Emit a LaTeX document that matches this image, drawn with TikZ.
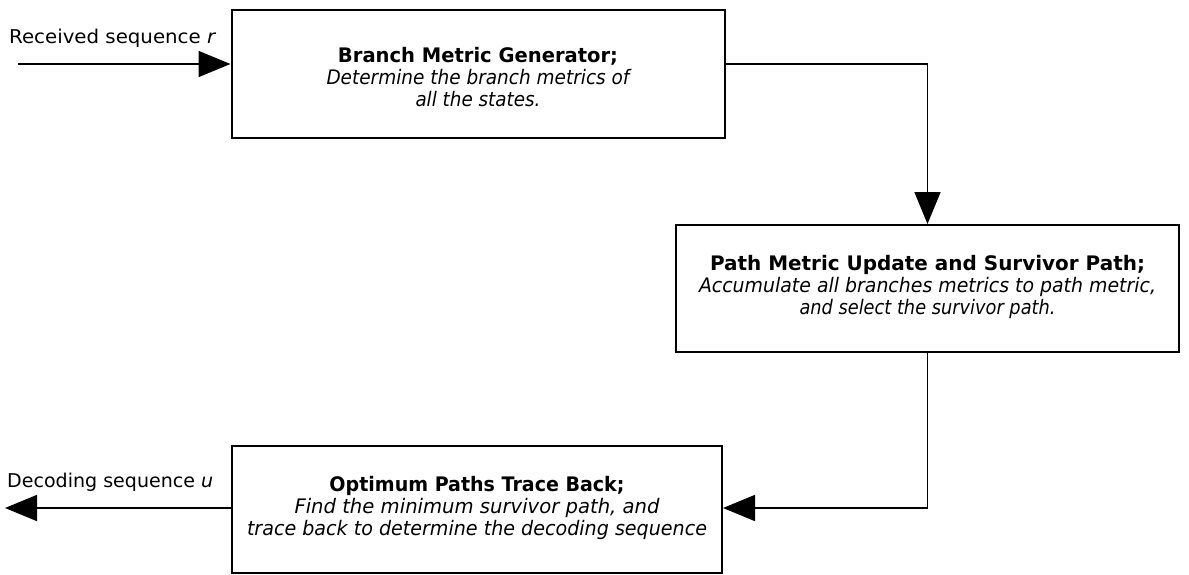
\documentclass[tikz,border=0pt]{standalone}
\usepackage{fontspec}
\setmainfont{DejaVu Sans}
\usetikzlibrary{arrows.meta}
% set a line of text to a given width (in pt), keeping its height
\newcommand{\fitline}[2]{\resizebox{#1pt}{\height}{#2}}
% move a block down without changing the size TikZ sees
\newcommand{\lowerby}[2]{\raisebox{-#1pt}[\height][\depth]{#2}}
\begin{document}
\begin{tikzpicture}[x=1pt,y=-1pt,
  stage/.style={draw=black,line width=2pt,rectangle,inner sep=0pt,
    font=\fontsize{20pt}{22pt}\selectfont},
  flow/.style={line width=1.7pt,-{Triangle[length=32pt,width=26pt]}},
  tag/.style={inner sep=0pt,anchor=base west,font=\fontsize{19pt}{22pt}\selectfont}]
\useasboundingbox (0,0) rectangle (1189,574);

% processing stages
\node[stage,minimum width=493pt,minimum height=128pt] (bmg) at (478,74)
  {\lowerby{6}{\begin{tabular}{@{}c@{}}
   \fitline{280}{\bfseries Branch Metric Generator;}\\
   \fitline{303}{\itshape Determine the branch metrics of}\\
   \fitline{125}{\itshape all the states.}
   \end{tabular}}};
\node[stage,minimum width=503pt,minimum height=127pt] (pmu) at (927.5,288.5)
  {\begin{tabular}{@{}c@{}}
   \fitline{435}{\bfseries Path Metric Update and Survivor Path;}\\
   \fitline{457}{\itshape Accumulate all branches metrics to path metric,}\\
   \fitline{256}{\itshape and select the survivor path.}
   \end{tabular}};
\node[stage,minimum width=490pt,minimum height=127pt] (tb) at (477,509.5)
  {\begin{tabular}{@{}c@{}}
   \fitline{295}{\bfseries Optimum Paths Trace Back;}\\
   \fitline{365}{\itshape Find the minimum survivor path, and}\\
   \fitline{460}{\itshape trace back to determine the decoding sequence}
   \end{tabular}};

% input and output labels
\node[tag] (rin) at (9,43) {\fitline{206}{Received sequence {\itshape r}}};
\node[tag] (uout) at (7,487) {\fitline{206}{Decoding sequence {\itshape u}}};

% connector ends and bends
\coordinate (inS) at (18,64);
\coordinate (bmgE) at (bmg.west |- inS);
\coordinate (bend1) at (pmu.north |- inS);
\coordinate (bend2) at (pmu.south |- 0,508);
\coordinate (outE) at (5,508);

\draw[flow] (inS) -- (bmgE);
\draw[flow] (bmg.east |- inS) -- (bend1) -- (pmu.north);
\draw[flow] (pmu.south) -- (bend2) -- (tb.east |- bend2);
\draw[flow] (tb.west |- outE) -- (outE);
\end{tikzpicture}
\end{document}
